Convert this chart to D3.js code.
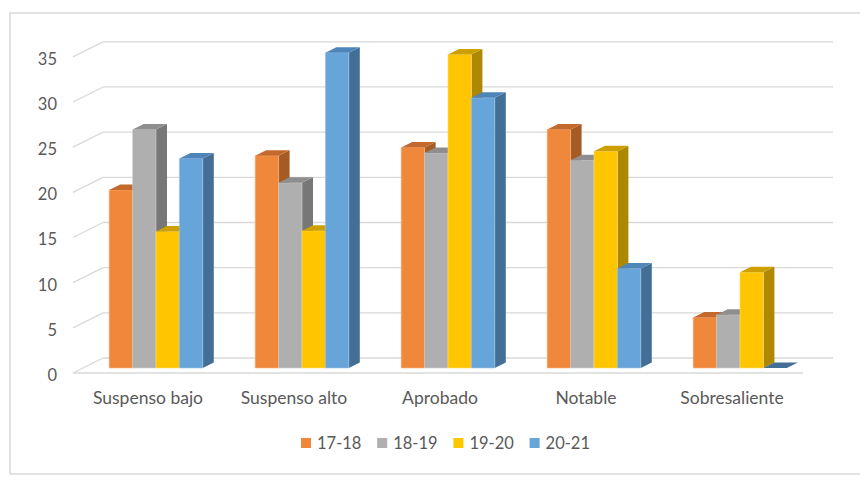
<!DOCTYPE html>
<html>
<head>
<meta charset="utf-8">
<script src="https://cdn.jsdelivr.net/npm/d3@7"></script>
<style>
  body { margin: 0; background: #fff; }
  svg { display: block; font-family: Lato, "Liberation Sans", sans-serif; }
</style>
</head>
<body>
<svg id="svg_main" width="860" height="477"></svg>
<script>
var categories = ["Suspenso bajo", "Suspenso alto", "Aprobado", "Notable", "Sobresaliente"];
var series = ["17-18", "18-19", "19-20", "20-21"];
var v1718 = [19.7, 23.5, 24.4, 26.4, 5.6];
var v1819 = [26.4, 20.5, 23.8, 23.0, 5.9];
var v1920 = [15.1, 15.2, 34.7, 24.0, 10.6];
var v2021 = [23.2, 34.9, 29.9, 11.0, 0];
var yTicks = [0, 5, 10, 15, 20, 25, 30, 35];

var values = [v1718, v1819, v1920, v2021];
var front = ["#f0883b", "#afafaf", "#ffc600", "#67a4d9"],
	side = ["#a65b25", "#777777", "#ad8800", "#436f96"],
	top_ = ["#c4692c", "#8e8e8e", "#cda000", "#4f86b9"],
	edge = ["#f7b07a", "#cccccc", "#ffdb66", "#9cc3e8"];

// oblique depth of the floor
var depthX = 30, depthY = -15;
// bars sit between these depth fractions
var dFront = 1 / 3, dBack = 0.7;

var svg = d3.select("#svg_main");

var x0 = d3.scaleBand().domain(categories).range([73, 803]),
	x1 = d3.scaleBand().domain(series).range([0, x0.bandwidth()]).paddingOuter(1.12),
	y = d3.scaleLinear().domain([0, 35]).range([373, 56.8]);

function proj(px, v, d) {
	return [px + depthX * d, y(v) + depthY * d];
}
function poly(pts) {
	return pts.map(p => p.join(",")).join(" ");
}

// chart border
svg.append("rect")
	.attr("x", 10).attr("y", 13)
	.attr("width", 860).attr("height", 461)
	.attr("fill", "none")
	.attr("stroke", "#d9d9d9")
	.attr("stroke-width", 1.5);

// walls: gridlines on the back and side walls
var grid = svg.append("g").attr("class", "grid");
for (let t of yTicks) {
	let a = proj(73, t, 0), b = proj(73, t, 1), c = proj(803, t, 1);
	grid.append("line")
		.attr("x1", a[0]).attr("y1", a[1]).attr("x2", b[0]).attr("y2", b[1])
		.attr("stroke", "#d9d9d9").attr("stroke-width", 1.3);
	grid.append("line")
		.attr("x1", b[0]).attr("y1", b[1]).attr("x2", c[0]).attr("y2", c[1])
		.attr("stroke", "#d9d9d9").attr("stroke-width", 1.3);
}
// front edge of the floor
grid.append("line")
	.attr("x1", 73).attr("y1", y(0)).attr("x2", 803).attr("y2", y(0))
	.attr("stroke", "#d9d9d9").attr("stroke-width", 1.3);

// y axis labels
svg.append("g").attr("class", "yAxis")
	.selectAll("text")
	.data(yTicks)
	.enter().append("text")
	.attr("x", 57)
	.attr("y", d => y(d) + 8)
	.attr("text-anchor", "end")
	.attr("font-size", "16.5px")
	.attr("fill", "#595959")
	.text(d => d);

// 3d bars, drawn left to right so later bars cover earlier side faces
var bars = svg.append("g").attr("class", "bars");
categories.forEach((cat, ci) => {
	series.forEach((s, si) => {
		let v = values[si][ci],
			xl = x0(cat) + x1(s),
			xr = xl + x1.bandwidth();
		let fbl = proj(xl, 0, dFront), fbr = proj(xr, 0, dFront),
			ftl = proj(xl, v, dFront), ftr = proj(xr, v, dFront),
			bbr = proj(xr, 0, dBack), btl = proj(xl, v, dBack), btr = proj(xr, v, dBack);
		let g = bars.append("g");
		if (v > 0) {
			g.append("polygon")
				.attr("points", poly([fbr, ftr, btr, bbr]))
				.attr("fill", side[si]);
			g.append("polygon")
				.attr("points", poly([fbl, fbr, ftr, ftl]))
				.attr("fill", front[si])
				.attr("stroke", edge[si]).attr("stroke-width", 0.6);
		}
		g.append("polygon")
			.attr("points", poly([ftl, ftr, btr, btl]))
			.attr("fill", v > 0 ? top_[si] : side[si]);
	});
});

// category labels
svg.append("g").attr("class", "xAxis")
	.selectAll("text")
	.data(categories)
	.enter().append("text")
	.attr("x", d => x0(d) + x0.bandwidth() / 2 + 2)
	.attr("y", 404)
	.attr("text-anchor", "middle")
	.attr("font-size", "17.5px")
	.attr("fill", "#595959")
	.text(d => d);

// legend
var legend = svg.append("g").attr("class", "legend");
series.forEach((s, i) => {
	let lx = 301 + i * 76.2;
	legend.append("rect")
		.attr("x", lx).attr("y", 438)
		.attr("width", 10).attr("height", 10)
		.attr("fill", front[i]);
	legend.append("text")
		.attr("x", lx + 16).attr("y", 449)
		.attr("font-size", "16.5px")
		.attr("fill", "#595959")
		.text(s);
});
</script>
</body>
</html>
